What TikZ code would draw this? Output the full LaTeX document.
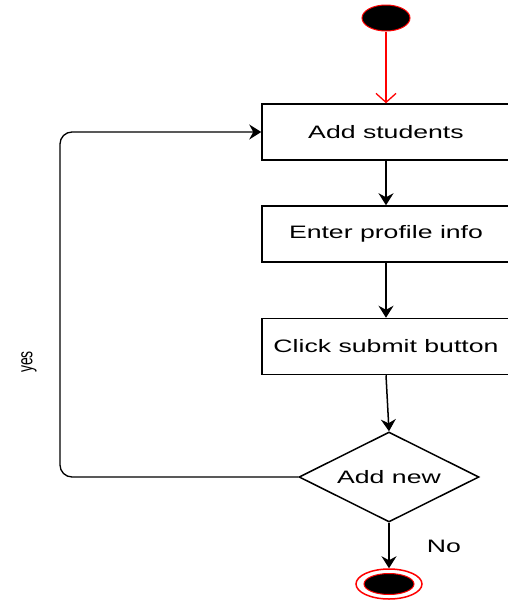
\documentclass[tikz,border=0pt]{standalone}
\usepackage{fontspec}
\setmainfont{Liberation Sans}
\newfontfamily\widefont[FakeStretch=1.48]{Liberation Sans}
\usetikzlibrary{arrows.meta,shapes.geometric}

\tikzset{
  stepbox/.style={draw, line width=1.5pt, minimum width=248pt, minimum height=56pt,
    inner sep=0pt, font=\widefont\fontsize{18}{20}\selectfont},
  flow/.style={draw, line width=1.5pt, -{Stealth[length=12pt,width=15pt,inset=4pt]}},
  label/.style={font=\widefont\fontsize{18}{20}\selectfont}
}

\begin{document}
\begin{tikzpicture}[x=1pt,y=-1pt]
    \useasboundingbox (0,0) rectangle (508,600);
    \clip (0,0) rectangle (508,600);

    % start and end
    \node (start) [ellipse, fill=black, draw=red, line width=1pt,
      minimum width=48pt, minimum height=26pt, inner sep=0pt] at (386,18) {};
    \node (endring) [ellipse, draw=red, line width=1.5pt,
      minimum width=66pt, minimum height=30pt, inner sep=0pt] at (389,584) {};
    \node (endcore) [ellipse, fill=black, draw=red, line width=1pt,
      minimum width=50pt, minimum height=21pt, inner sep=0pt] at (389,584) {};

    % steps
    \node (add) [stepbox] at (386,132) {Add students};
    \node (profile) [stepbox] at (386,234) {Enter profile info};
    \node (submit) [stepbox] at (386,346.5) {Click submit button};

    \node (check) [diamond, draw, line width=1.5pt, aspect=2, inner sep=0pt,
      minimum width=180pt, minimum height=90pt, label] at (389,477) {Add new};

    % connectors
    \draw [red, line width=1.3pt, -{Straight Barb[length=9pt,width=20pt]}]
      (start) -- (add.north -| start);
    \draw [flow] (add.south -| start) -- (profile.north -| start);
    \draw [flow] (profile.south -| start) -- (submit.north -| start);
    \draw [flow] (submit.south -| start) -- (check.north);
    \draw [flow] (check.south) -- (endring.north);

    \coordinate (loopbot) at (60,477);
    \coordinate (looptop) at (60,132);
    \draw [flow, line width=1.3pt, rounded corners=12pt]
      (check.west) -- (loopbot) -- (looptop) -- (add.west);

    \node (yes) [rotate=90, font=\fontsize{14}{16}\selectfont] at (29,362)
      {\scalebox{1}[1.48]{yes}};
    \node (no) [label] at (444,546) {No};

\end{tikzpicture}
\end{document}
